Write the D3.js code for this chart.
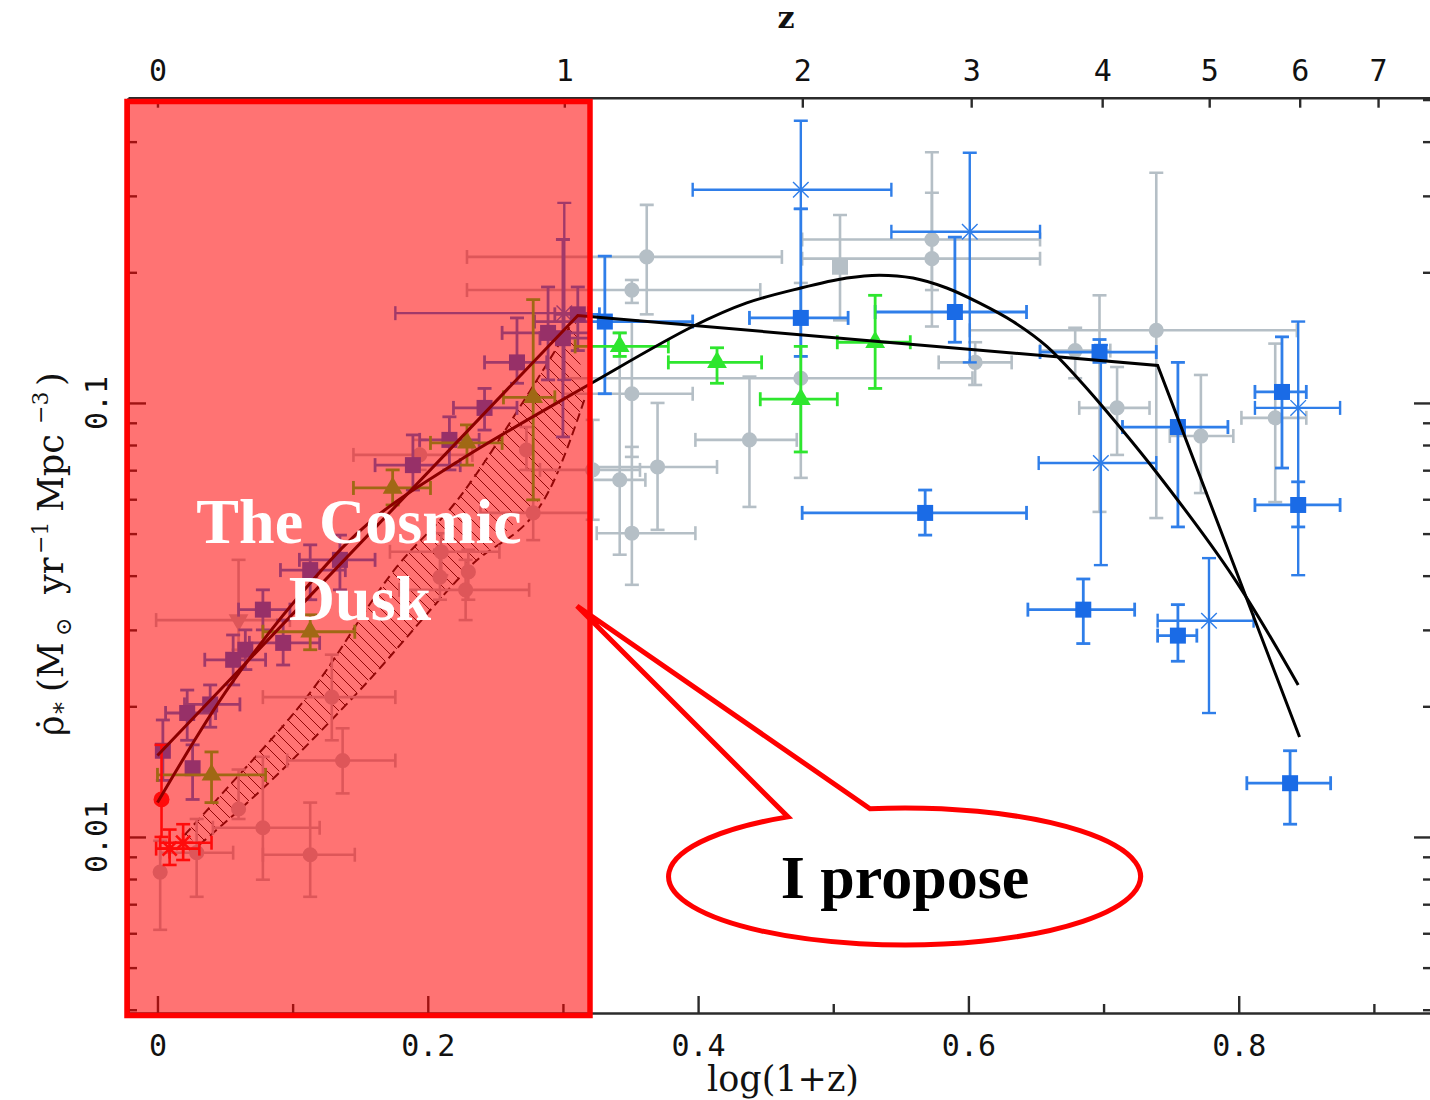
<!DOCTYPE html>
<html>
<head>
<meta charset="utf-8">
<script src="https://cdn.jsdelivr.net/npm/d3@7"></script>
<style>
  html, body { margin: 0; padding: 0; background: #fff; }
  svg { display: block; }
</style>
</head>
<body>
<svg id="chart" width="1430" height="1100"></svg>
<script>
// ---- data: [log(1+z), rho, xLo, xHi, rhoLo, rhoHi]  (null = no bar) ----
var greyCircles = [
  [0.362, 0.217, 0.229, 0.462, 0.160, 0.286],
  [0.351, 0.182, 0.229, 0.446, 0.170, 0.192],
  [0.351, 0.105, 0.300, 0.396, 0.0751, 0.155],
  [0.342, 0.0665, 0.320, 0.361, 0.0447, 0.145],
  [0.370, 0.0712, 0.320, 0.414, 0.0510, 0.100],
  [0.351, 0.0501, 0.325, 0.398, 0.0381, 0.0792],
  [0.438, 0.0822, 0.398, 0.473, 0.0576, 0.115],
  [0.476, 0.114, 0.300, 0.603, 0.0672, 0.189],
  [0.573, 0.238, 0.477, 0.653, 0.182, 0.305],
  [0.573, 0.215, 0.477, 0.653, 0.150, 0.378],
  [0.605, 0.124, 0.578, 0.632, 0.110, 0.138],
  [0.739, 0.147, 0.601, 0.843, 0.0543, 0.339],
  [0.679, 0.132, 0.653, 0.705, 0.114, 0.149],
  [0.710, 0.0974, 0.682, 0.734, 0.0759, 0.121],
  [0.697, 0.131, null, null, 0.0561, 0.177],
  [0.772, 0.0839, 0.749, 0.796, 0.0620, 0.116],
  [0.827, 0.0924, 0.802, 0.850, 0.0591, 0.137],
  [0.322, 0.0701, 0.283, 0.357, 0.0538, 0.0914],
  [0.278, 0.0558, 0.239, 0.320, 0.0483, 0.0701],
  [0.273, 0.0779, null, null, 0.0701, 0.0880],
  [0.228, 0.0371, 0.179, 0.275, 0.0316, 0.0435],
  [0.210, 0.0454, 0.172, 0.253, 0.0401, 0.0501],
  [0.230, 0.0408, null, null, 0.0352, 0.0459],
  [0.194, 0.0759, 0.145, 0.233, 0.0701, 0.0822],
  [0.209, 0.0397, null, null, 0.0352, 0.0459],
  [0.129, 0.0210, 0.078, 0.176, 0.0167, 0.0263],
  [0.137, 0.0150, 0.096, 0.176, 0.0126, 0.0178],
  [0.078, 0.0105, 0.041, 0.120, 0.00797, 0.0153],
  [0.113, 0.0091, 0.078, 0.146, 0.00728, 0.0120],
  [0.060, 0.0116, null, null, 0.0110, 0.0143],
  [0.029, 0.0092, 0.002, 0.056, 0.00728, 0.0110],
  [0.002, 0.0083, null, null, 0.00611, 0.0098]
];
var greySquares = [
  [0.505, 0.206, null, null, 0.155, 0.271]
];
var greyTriangles = [
  [0.060, 0.0316, -0.001, 0.098, 0.0270, 0.0435]
];
var blueSquares = [
  [0.331, 0.154, 0.279, 0.396, 0.105, 0.218],
  [0.476, 0.157, 0.438, 0.511, 0.128, 0.280],
  [0.590, 0.162, 0.531, 0.643, 0.138, 0.241],
  [0.568, 0.0558, 0.477, 0.643, 0.0496, 0.0630],
  [0.697, 0.131, 0.653, 0.739, 0.124, 0.140],
  [0.755, 0.0880, 0.714, 0.792, 0.0518, 0.124],
  [0.832, 0.106, 0.812, 0.850, 0.0708, 0.142],
  [0.844, 0.0582, 0.812, 0.875, 0.0518, 0.0658],
  [0.685, 0.0334, 0.644, 0.723, 0.0279, 0.0393],
  [0.755, 0.0291, 0.740, 0.769, 0.0254, 0.0343],
  [0.838, 0.0133, 0.806, 0.868, 0.0107, 0.0158],
  [0.311, 0.160, 0.294, 0.327, 0.132, 0.185],
  [0.300, 0.141, 0.283, 0.320, 0.0835, 0.238],
  [0.289, 0.145, 0.255, 0.320, 0.113, 0.185],
  [0.266, 0.124, 0.242, 0.288, 0.111, 0.157],
  [0.242, 0.0974, 0.219, 0.266, 0.0866, 0.108],
  [0.216, 0.0822, 0.194, 0.238, 0.0701, 0.0929],
  [0.189, 0.0719, 0.161, 0.224, 0.0630, 0.0844],
  [0.135, 0.0435, 0.105, 0.161, 0.0371, 0.0496],
  [0.113, 0.0412, 0.091, 0.139, 0.0352, 0.0471],
  [0.093, 0.0280, 0.068, 0.120, 0.0249, 0.0316],
  [0.078, 0.0334, 0.060, 0.098, 0.0300, 0.0371],
  [0.056, 0.0256, 0.035, 0.080, 0.0224, 0.0292],
  [0.065, 0.0270, null, null, 0.0243, 0.0300],
  [0.039, 0.0202, 0.020, 0.061, 0.0179, 0.0224],
  [0.022, 0.0193, 0.006, 0.043, 0.0167, 0.0218],
  [0.026, 0.0144, null, null, 0.0122, 0.0163],
  [0.004, 0.0158, null, null, 0.0135, 0.0186]
];
var blueStars = [
  [0.476, 0.310, 0.396, 0.543, 0.280, 0.447],
  [0.601, 0.248, 0.543, 0.653, 0.124, 0.377],
  [0.698, 0.0727, 0.652, 0.739, 0.0423, 0.136],
  [0.778, 0.0315, 0.740, 0.811, 0.0193, 0.0439],
  [0.844, 0.0974, 0.812, 0.875, 0.0401, 0.154],
  [0.301, 0.161, 0.176, 0.319, 0.113, 0.289]
];
var greenTriangles = [
  [0.342, 0.135, 0.309, 0.378, 0.128, 0.145],
  [0.414, 0.124, 0.378, 0.447, 0.111, 0.134],
  [0.531, 0.138, 0.503, 0.557, 0.108, 0.177],
  [0.476, 0.102, 0.446, 0.503, 0.0771, 0.135],
  [0.278, 0.103, 0.256, 0.294, 0.0598, 0.173],
  [0.229, 0.0809, 0.202, 0.255, 0.0719, 0.0890],
  [0.174, 0.0637, 0.145, 0.202, 0.0582, 0.0701],
  [0.113, 0.0297, 0.078, 0.146, 0.0270, 0.0325],
  [0.040, 0.0139, 0.0, 0.080, 0.0120, 0.0157]
];
var redCircles = [
  [0.003, 0.0122, null, null, 0.0100, 0.0163]
];
var redStars = [
  [0.019, 0.0097, 0.002, 0.040, 0.00885, 0.0107],
  [0.009, 0.0094, -0.001, 0.031, 0.00862, 0.0104]
];

// fits
var fitBrokenX = [0, 0.311, 0.740, 0.845];
var fitBrokenY = [0.0154, 0.159, 0.122, 0.0170];
var fitSmoothX = [0.0, 0.054, 0.115, 0.159, 0.224, 0.321, 0.396, 0.436, 0.476, 0.510, 0.534,
                  0.559, 0.584, 0.608, 0.633, 0.658, 0.682, 0.697, 0.736, 0.796, 0.844];
var fitSmoothY = [0.0120, 0.0224, 0.0391, 0.0538, 0.0739, 0.111, 0.150, 0.170, 0.184, 0.194, 0.197,
                  0.194, 0.184, 0.170, 0.154, 0.135, 0.113, 0.100, 0.0712, 0.0397, 0.0224];

// hatched band
var bandUpperX = [0.020, 0.048, 0.113, 0.177, 0.222, 0.276, 0.309];
var bandUpperY = [0.0101, 0.0126, 0.0215, 0.0419, 0.0598, 0.107, 0.157];
var bandLowerX = [0.031, 0.074, 0.148, 0.231, 0.290, 0.316];
var bandLowerY = [0.00959, 0.0126, 0.0215, 0.0419, 0.0630, 0.102];

// ticks
var zTicks = [0, 1, 2, 3, 4, 5, 6, 7];
var xMajorTicks = [0, 0.2, 0.4, 0.6, 0.8];
var xMinorTicks = [0.1, 0.3, 0.5, 0.7, 0.9];
var yMajorTicks = [0.01, 0.1];
var yMajorLabels = ['0.01', '0.1'];
var yMinorTicks = [0.004, 0.005, 0.006, 0.007, 0.008, 0.009,
                   0.02, 0.03, 0.04, 0.05, 0.06, 0.07, 0.08, 0.09,
                   0.2, 0.3, 0.4, 0.5];

(function () {
  'use strict';

  var MONO = '"DejaVu Sans Mono", monospace';
  var SERIF = '"DejaVu Serif", serif';
  var TIMES = '"Liberation Serif", "Times New Roman", serif';
  var AXIS = '#2b2b2b';
  var GREY = '#b5bfc6', BLUE = '#1a6be6', BLUE_BAR = '#2f7ee9', GREEN = '#2ee62e', RED = '#ff1a1a';
  var CAP = 7;

  var PLOT = { left: 128, right: 1432, top: 97.7, bottom: 1013 };

  var x = d3.scaleLinear().domain([-0.0218, 0.943]).range([PLOT.left, PLOT.right]);
  var y = d3.scaleLog().domain([0.00393, 0.505]).range([PLOT.bottom, PLOT.top]);

  var svg = d3.select('#chart');
  svg.append('rect').attr('width', 1430).attr('height', 1100).attr('fill', '#fff');

  var defs = svg.append('defs');
  defs.append('clipPath').attr('id', 'plot-clip')
    .append('rect')
    .attr('x', PLOT.left).attr('y', PLOT.top)
    .attr('width', PLOT.right - PLOT.left).attr('height', PLOT.bottom - PLOT.top);

  var hatch = defs.append('pattern').attr('id', 'hatch')
    .attr('patternUnits', 'userSpaceOnUse')
    .attr('width', 12).attr('height', 12);
  hatch.append('path')
    .attr('d', 'M0,0L12,12M-6,6L6,18M6,-6L18,6')
    .attr('stroke', '#111').attr('stroke-width', 1);

  // ---------- axes ----------
  function styleAxis(g) {
    g.attr('font-family', null).attr('font-size', null);
    g.select('.domain').attr('stroke', AXIS).attr('stroke-width', 2.6);
    g.selectAll('.tick line').attr('stroke', AXIS).attr('stroke-width', 2.4);
    g.selectAll('.tick text').attr('fill', '#111')
      .style('font-family', MONO).style('font-size', '30px');
  }

  var axes = svg.append('g');

  var top = axes.append('g').attr('transform', 'translate(0,' + PLOT.top + ')')
    .call(d3.axisTop(x)
      .tickValues(zTicks.map(function (z) { return Math.log10(1 + z); }))
      .tickFormat(function (d, i) { return zTicks[i]; })
      .tickSizeInner(-10).tickSizeOuter(0).tickPadding(17));
  styleAxis(top);

  var bottom = axes.append('g').attr('transform', 'translate(0,' + PLOT.bottom + ')')
    .call(d3.axisBottom(x).tickValues(xMajorTicks).tickFormat(d3.format(''))
      .tickSizeInner(-17).tickSizeOuter(0).tickPadding(22));
  styleAxis(bottom);

  var bottomMinor = axes.append('g').attr('transform', 'translate(0,' + PLOT.bottom + ')')
    .call(d3.axisBottom(x).tickValues(xMinorTicks).tickFormat('')
      .tickSizeInner(-9).tickSizeOuter(0));
  styleAxis(bottomMinor);
  bottomMinor.select('.domain').remove();

  [[PLOT.left, d3.axisLeft], [PLOT.right, d3.axisRight]].forEach(function (a) {
    var major = axes.append('g').attr('transform', 'translate(' + a[0] + ',0)')
      .call(a[1](y).tickValues(yMajorTicks).tickFormat('').tickSizeInner(-18).tickSizeOuter(0));
    styleAxis(major);
    var minor = axes.append('g').attr('transform', 'translate(' + a[0] + ',0)')
      .call(a[1](y).tickValues(yMinorTicks).tickFormat('').tickSizeInner(-9).tickSizeOuter(0));
    styleAxis(minor);
    minor.select('.domain').remove();
  });

  // rotated y tick labels
  axes.selectAll('text.ylab').data(yMajorTicks).join('text')
    .attr('class', 'ylab')
    .attr('transform', function (d) { return 'translate(107,' + y(d) + ') rotate(-90)'; })
    .attr('text-anchor', 'middle')
    .style('font-family', MONO).style('font-size', '30px').attr('fill', '#111')
    .text(function (d, i) { return yMajorLabels[i]; });

  // axis titles
  axes.append('text')
    .attr('x', 786).attr('y', 28).attr('text-anchor', 'middle')
    .style('font-family', SERIF).style('font-size', '30px').style('font-weight', 'bold')
    .attr('fill', '#111').text('z');

  axes.append('text')
    .attr('x', 783).attr('y', 1091).attr('text-anchor', 'middle')
    .style('font-family', SERIF).style('font-size', '35px')
    .attr('fill', '#111').text('log(1+z)');

  // y title: pieces placed along the rotated baseline
  var ytitle = axes.append('text')
    .attr('transform', 'translate(63,742) rotate(-90)')
    .style('font-family', SERIF).style('font-size', '35px').attr('fill', '#111');
  var yParts = [
    { t: '\u03C1\u0307', x: 6, dy: 0, fs: 35 },
    { t: '*', x: 28, dy: 8, fs: 24 },
    { t: '(M', x: 50, dy: 0, fs: 35 },
    { t: '\u2299', x: 106, dy: 8, fs: 22 },
    { t: 'yr', x: 148, dy: 0, fs: 35 },
    { t: '\u22121', x: 188, dy: -15, fs: 22 },
    { t: 'Mpc', x: 230, dy: 0, fs: 35 },
    { t: '\u22123', x: 318, dy: -15, fs: 22 },
    { t: ')', x: 356, dy: 0, fs: 35 }
  ];
  ytitle.selectAll('tspan').data(yParts).join('tspan')
    .attr('x', function (d) { return d.x; })
    .attr('y', function (d) { return d.dy; })
    .style('font-size', function (d) { return d.fs + 'px'; })
    .text(function (d) { return d.t; });

  // ---------- plot content ----------
  var plot = svg.append('g').attr('clip-path', 'url(#plot-clip)');

  // hatched band
  var bandPts = bandUpperX.map(function (v, i) { return [x(v), y(bandUpperY[i])]; })
    .concat(bandLowerX.map(function (v, i) { return [x(v), y(bandLowerY[i])]; }).reverse());
  plot.append('path')
    .attr('d', d3.line().curve(d3.curveLinearClosed)(bandPts))
    .attr('fill', 'url(#hatch)').attr('stroke', 'none');
  [[bandUpperX, bandUpperY], [bandLowerX, bandLowerY]].forEach(function (b) {
    plot.append('path')
      .attr('d', d3.line().curve(d3.curveMonotoneX)(b[0].map(function (v, i) { return [x(v), y(b[1][i])]; })))
      .attr('fill', 'none').attr('stroke', '#111').attr('stroke-width', 2)
      .attr('stroke-dasharray', '9,5');
  });

  function errorSegments(rows) {
    var segs = [];
    rows.forEach(function (r) {
      var cx = x(r[0]), cy = y(r[1]);
      if (r[2] != null) {
        var x0 = x(r[2]), x1 = x(r[3]);
        segs.push([x0, cy, x1, cy], [x0, cy - CAP, x0, cy + CAP], [x1, cy - CAP, x1, cy + CAP]);
      }
      if (r[4] != null) {
        var y0 = y(r[4]), y1 = y(r[5]);
        segs.push([cx, y0, cx, y1], [cx - CAP, y0, cx + CAP, y0], [cx - CAP, y1, cx + CAP, y1]);
      }
    });
    return segs;
  }

  function drawBars(rows, color, width) {
    plot.append('g').selectAll('line').data(errorSegments(rows)).join('line')
      .attr('x1', function (s) { return s[0]; }).attr('y1', function (s) { return s[1]; })
      .attr('x2', function (s) { return s[2]; }).attr('y2', function (s) { return s[3]; })
      .attr('stroke', color).attr('stroke-width', width);
  }

  function drawSymbols(rows, pathFn, fill, stroke, sw, rotate) {
    plot.append('g').selectAll('path').data(rows).join('path')
      .attr('transform', function (r) {
        return 'translate(' + x(r[0]) + ',' + y(r[1]) + ')' + (rotate ? ' rotate(' + rotate + ')' : '');
      })
      .attr('d', pathFn)
      .attr('fill', fill).attr('stroke', stroke || 'none').attr('stroke-width', sw || 0);
  }

  function starPath(rad) {
    var d = rad * Math.SQRT1_2;
    return 'M' + (-rad) + ',0L' + rad + ',0M0,' + (-rad) + 'L0,' + rad +
      'M' + (-d) + ',' + (-d) + 'L' + d + ',' + d + 'M' + (-d) + ',' + d + 'L' + d + ',' + (-d);
  }

  var circleSym = d3.symbol(d3.symbolCircle, 180)();
  var squareSym = d3.symbol(d3.symbolSquare, 256)();
  var triSym = d3.symbol(d3.symbolTriangle, 170)();

  // grey compilation
  drawBars(greyCircles.concat(greySquares, greyTriangles), GREY, 2.6);
  drawSymbols(greyCircles, circleSym, GREY);
  drawSymbols(greySquares, squareSym, GREY);
  drawSymbols(greyTriangles, triSym, GREY, null, 0, 180);

  // blue
  drawBars(blueStars, BLUE_BAR, 2.4);
  drawBars(blueSquares, BLUE_BAR, 2.8);
  drawSymbols(blueStars, starPath(11), 'none', BLUE_BAR, 1.4);
  drawSymbols(blueSquares, squareSym, BLUE);

  // green
  drawBars(greenTriangles, GREEN, 2.8);
  drawSymbols(greenTriangles, triSym, GREEN);

  // red (z ~ 0)
  drawBars(redCircles.concat(redStars), RED, 2.6);
  drawSymbols(redCircles, d3.symbol(d3.symbolCircle, 200)(), RED);
  drawSymbols(redStars, starPath(10), 'none', RED, 2.6);

  // fits
  plot.append('path')
    .attr('d', d3.line().curve(d3.curveCatmullRom)(fitSmoothX.map(function (v, i) { return [x(v), y(fitSmoothY[i])]; })))
    .attr('fill', 'none').attr('stroke', '#000').attr('stroke-width', 3);
  plot.append('path')
    .attr('d', d3.line()(fitBrokenX.map(function (v, i) { return [x(v), y(fitBrokenY[i])]; })))
    .attr('fill', 'none').attr('stroke', '#000').attr('stroke-width', 3);

  // ---------- callout bubble ----------
  var bub = { cx: 904, cy: 876.5, rx: 236, ry: 68.5 };
  var tip = [577, 606];
  var baseA = [870, 808.7], baseB = [788, 816.9];
  svg.append('path')
    .attr('d', 'M' + baseA + 'A' + bub.rx + ',' + bub.ry + ' 0 1 1 ' + baseB + 'L' + tip + 'Z')
    .attr('fill', '#fff').attr('stroke', '#ff0000').attr('stroke-width', 5)
    .attr('stroke-linejoin', 'miter');

  // ---------- translucent highlight ----------
  svg.append('rect')
    .attr('x', 127).attr('y', 101.5).attr('width', 463).attr('height', 914)
    .attr('fill', 'rgba(255,0,0,0.55)')
    .attr('stroke', '#ff0000').attr('stroke-width', 5.5);

  var dusk = svg.append('text')
    .attr('text-anchor', 'middle')
    .style('font-family', TIMES).style('font-size', '64px').style('font-weight', 'bold')
    .attr('fill', '#fff');
  dusk.append('tspan').attr('x', 359).attr('y', 543).text('The Cosmic');
  dusk.append('tspan').attr('x', 360).attr('y', 620).text('Dusk');

  svg.append('text')
    .attr('x', 905).attr('y', 898).attr('text-anchor', 'middle')
    .style('font-family', TIMES).style('font-size', '62px').style('font-weight', 'bold')
    .attr('fill', '#000').text('I propose');
})();
</script>
</body>
</html>
